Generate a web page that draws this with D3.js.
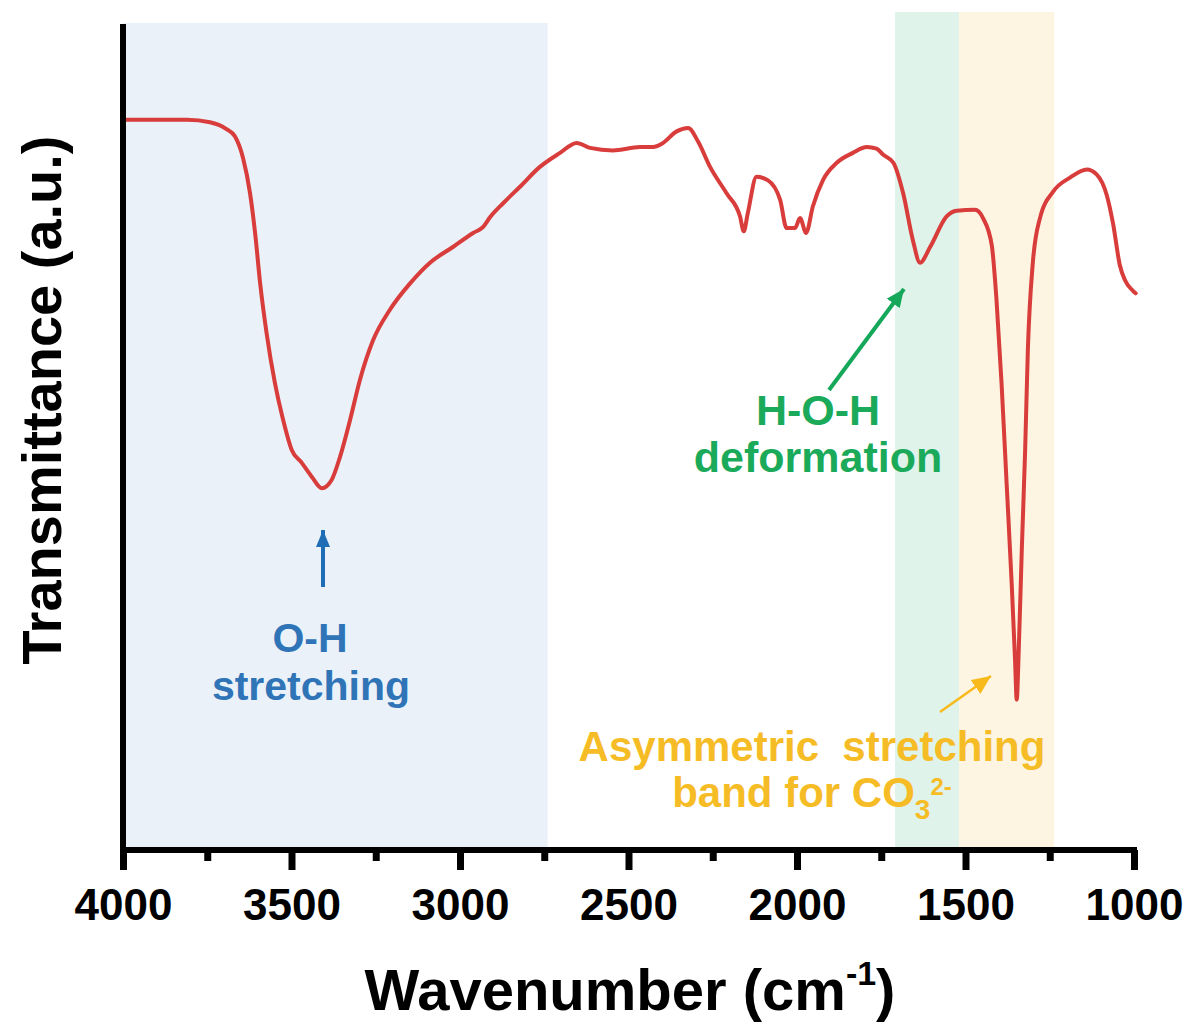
<!DOCTYPE html>
<html><head><meta charset="utf-8">
<script src="https://cdn.jsdelivr.net/npm/d3@7"></script>
<style>
html,body{margin:0;padding:0;background:#fff;}
svg{display:block;font-family:"Liberation Sans",Arial,sans-serif;}
</style></head>
<body>
<svg id="chart" width="1194" height="1025"></svg>
<script>
// ---- data ----
const wavenumber = [4000,3911,3810,3742,3694,3668,3644,3623,3608,3593,3574,3549,3525,3499,3470,3440,3410,3381,3356,3326,3297,3258,3208,3148,3089,3021,2961,2932,2911,2872,2822,2763,2703,2654,2614,2546,2466,2427,2401,2357,2323,2294,2258,2209,2169,2158,2146,2120,2087,2050,2031,2006,1991,1973,1953,1923,1882,1834,1793,1764,1745,1714,1685,1656,1635,1605,1556,1526,1472,1448,1422,1408,1393,1378,1363,1353,1348,1342,1333,1323,1315,1300,1279,1240,1190,1140,1111,1081,1062,1042,1027,1003,995];
const transmittance = [88.4,88.4,88.4,88.1,87.3,86.4,83.8,79.5,74.7,68.6,62.6,56.5,52.1,48.4,46.9,45.2,43.8,44.8,47.6,52.1,56.9,61.7,65.4,68.6,71.1,73.0,74.7,75.4,76.6,78.3,80.3,82.7,84.4,85.6,85.0,84.7,85.1,85.1,85.5,87.0,87.4,85.8,82.7,79.5,76.7,74.9,77.1,81.5,81.1,78.7,75.3,75.3,76.5,74.7,77.9,81.1,83.2,84.4,85.1,84.9,84.2,83.2,79.5,73.8,71.1,73.0,76.7,77.4,77.5,76.5,73.2,66.6,56.5,44.4,32.3,23.0,18.2,24.2,36.3,48.4,60.5,71.2,76.5,79.7,81.4,82.4,81.8,79.3,75.8,70.8,69.0,67.7,67.4];
const majorTicks = [4000,3500,3000,2500,2000,1500,1000];
const minorTicks = [3750,3250,2750,2250,1750,1250];
const bandNames = ["O-H","H-O-H","CO3"];
const bandFrom = [4000,1709,1519];
const bandTo = [2740,1519,1237];
const bandColors = ["#EAF1F9","#E0F3EA","#FDF5E2"];
const xTitle = "Wavenumber (cm";
const yTitle = "Transmittance (a.u.)";

// ---- layout ----
const svg = d3.select("#chart");
const mLeft = 123, mRight = 1134, mTop = 24, mBottom = 850;
const x = d3.scaleLinear().domain([4000,1000]).range([mLeft,mRight]);
const y = d3.scaleLinear().domain([0,100]).range([mBottom,mTop]);
const bandTop = [mTop-1, 12, 12];

// bands
svg.append("g").selectAll("rect").data(bandNames).join("rect")
  .attr("x",(d,i)=>x(bandFrom[i]))
  .attr("width",(d,i)=>x(bandTo[i])-x(bandFrom[i]))
  .attr("y",(d,i)=>bandTop[i])
  .attr("height",(d,i)=>mBottom-bandTop[i])
  .attr("fill",(d,i)=>bandColors[i]);

// curve
const pts = wavenumber.map((w,i)=>[w,transmittance[i]]);
svg.append("path").datum(pts)
  .attr("fill","none").attr("stroke","#D83C3B").attr("stroke-width",4)
  .attr("stroke-linejoin","round").attr("stroke-linecap","round")
  .attr("d", d3.line().x(d=>x(d[0])).y(d=>y(d[1])).curve(d3.curveMonotoneX));

// x axis
const gx = svg.append("g").attr("transform",`translate(0,${mBottom})`);
gx.call(d3.axisBottom(x).tickValues(majorTicks).tickSize(20).tickSizeOuter(0).tickFormat(d3.format("d")));
gx.select(".domain").remove();
gx.selectAll(".tick line").attr("stroke","#000").attr("stroke-width",7);
gx.selectAll(".tick text").attr("y",70).attr("dy",0)
  .attr("font-size",44).attr("font-weight","bold").attr("fill","#000")
  .attr("font-family","Liberation Sans, Arial, sans-serif");
const gm = svg.append("g").attr("transform",`translate(0,${mBottom})`);
gm.call(d3.axisBottom(x).tickValues(minorTicks).tickSize(11).tickSizeOuter(0).tickFormat(""));
gm.select(".domain").remove();
gm.selectAll(".tick line").attr("stroke","#000").attr("stroke-width",7);
svg.append("line").attr("x1",mLeft-3).attr("x2",mRight+3).attr("y1",mBottom).attr("y2",mBottom)
  .attr("stroke","#000").attr("stroke-width",6);
// y axis
svg.append("line").attr("x1",mLeft).attr("x2",mLeft).attr("y1",mTop).attr("y2",mBottom+3)
  .attr("stroke","#000").attr("stroke-width",6);

// axis titles
const xt = svg.append("text").attr("x",630).attr("y",1010).attr("text-anchor","middle")
  .attr("font-size",58).attr("font-weight","bold").attr("fill","#000");
xt.append("tspan").text(xTitle);
xt.append("tspan").attr("font-size",34).attr("dy",-25).text("-1");
xt.append("tspan").attr("dy",25).text(")");
svg.append("text").attr("transform","translate(61,400) rotate(-90)").attr("text-anchor","middle")
  .attr("font-size",56).attr("font-weight","bold").attr("fill","#000").text(yTitle);

// arrows
const defs = svg.append("defs");
function arrow(id,color,w,h){
  defs.append("marker").attr("id",id).attr("viewBox",`0 0 ${h} ${w}`).attr("refX",h).attr("refY",w/2)
    .attr("markerWidth",h).attr("markerHeight",w).attr("markerUnits","userSpaceOnUse").attr("orient","auto")
    .append("path").attr("d",`M0,0L${h},${w/2}L0,${w}Z`).attr("fill",color);
}
arrow("ab","#1F6DB5",14,17);
arrow("ag","#16A85A",16,18);
arrow("ay","#F8BA1A",17,19);
svg.append("line").attr("x1",323).attr("y1",587).attr("x2",323).attr("y2",530)
  .attr("stroke","#1F6DB5").attr("stroke-width",4).attr("marker-end","url(#ab)");
svg.append("line").attr("x1",829).attr("y1",390).attr("x2",904).attr("y2",289)
  .attr("stroke","#16A85A").attr("stroke-width",4).attr("marker-end","url(#ag)");
svg.append("line").attr("x1",940).attr("y1",712).attr("x2",991).attr("y2",676)
  .attr("stroke","#F8BA1A").attr("stroke-width",2.5).attr("marker-end","url(#ay)");

// annotation text
function label(txt,cx,by,color,size){
  return svg.append("text").attr("x",cx).attr("y",by).attr("text-anchor","middle")
    .attr("font-size",size).attr("font-weight","bold").attr("fill",color)
    .style("white-space","pre").text(txt);
}
label("O-H",310,652,"#2F74B6",41);
label("stretching",311,700,"#2F74B6",41);
label("H-O-H",818,425,"#1AAA5A",43);
label("deformation",818,472,"#1AAA5A",43);
label("Asymmetric  stretching",812,761,"#F6BC26",42);
const co = svg.append("text").attr("x",812).attr("y",807).attr("text-anchor","middle")
  .attr("font-size",42).attr("font-weight","bold").attr("fill","#F6BC26");
co.append("tspan").text("band for CO");
co.append("tspan").attr("font-size",28).attr("dy",12).text("3");
co.append("tspan").attr("font-size",24).attr("dy",-24).text("2-");
</script>
</body></html>
